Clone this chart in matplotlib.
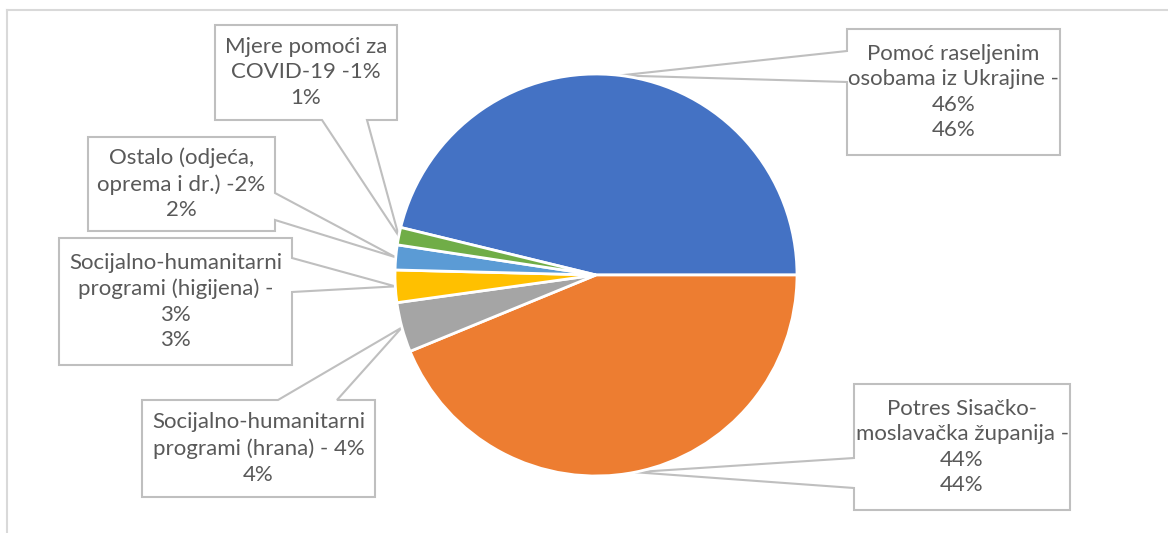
import matplotlib
matplotlib.use("Agg")
import matplotlib.pyplot as plt
import numpy as np
from matplotlib.patches import Polygon

# Data
categories = [
    "Pomoć raseljenim\nosobama iz Ukrajine -\n46%",
    "Potres Sisačko-\nmoslavačka županija -\n44%",
    "Socijalno-humanitarni\nprogrami (hrana) - 4%",
    "Socijalno-humanitarni\nprogrami (higijena) -\n3%",
    "Ostalo (odjeća,\noprema i dr.) -2%",
    "Mjere pomoći za\nCOVID-19 -1%",
]
values = [46.2, 43.8, 4.0, 2.6, 2.0, 1.4]
colors = ["#4472C4", "#ED7D31", "#A5A5A5", "#FFC000", "#5B9BD5", "#70AD47"]

# Layout of the callout boxes in pixels (x0, y0, x1, y1), y measured from top
boxes = [
    (847, 29, 1060, 155),
    (854, 384, 1070, 510),
    (142, 400, 375, 497),
    (59, 238, 292, 365),
    (88, 137, 275, 231),
    (215, 25, 397, 120),
]
# side of the box the leader comes out of, and the two base points on that side
sides = ["left", "left", "top", "right", "right", "bottom"]
bases = [(51, 82), (458, 488), (278, 337), (258, 292), (193, 220), (322, 367)]

W, H = 1168, 533
fig = plt.figure(figsize=(W / 100, H / 100), dpi=100)
ax = fig.add_axes([0, 0, 1, 1])

cx, cy, r = 596, H - 275, 201
total = sum(values)
start = 360 * values[0] / total
wedges, _ = ax.pie(values, colors=colors, startangle=start, counterclock=False,
                   center=(cx, cy), radius=r, frame=True,
                   wedgeprops=dict(edgecolor="white", linewidth=2))
ax.set_xlim(0, W)
ax.set_ylim(0, H)
ax.set_aspect("equal")
ax.axis("off")


def flip(p):
    return (p[0], H - p[1])


for w, cat, v, box, side, (b1, b2) in zip(wedges, categories, values, boxes, sides, bases):
    mid = np.deg2rad((w.theta1 + w.theta2) / 2)
    anchor = (cx + r * np.cos(mid), H - (cy + r * np.sin(mid)))
    x0, y0, x1, y1 = box
    if side == "top":
        pts = [(x0, y0), (b1, y0), anchor, (b2, y0), (x1, y0), (x1, y1), (x0, y1)]
    elif side == "right":
        pts = [(x0, y0), (x1, y0), (x1, b1), anchor, (x1, b2), (x1, y1), (x0, y1)]
    elif side == "bottom":
        pts = [(x0, y0), (x1, y0), (x1, y1), (b2, y1), anchor, (b1, y1), (x0, y1)]
    else:
        pts = [(x0, y0), (x1, y0), (x1, y1), (x0, y1), (x0, b2), anchor, (x0, b1)]
    poly = Polygon([flip(p) for p in pts], closed=True, facecolor="white",
                   edgecolor="#BFBFBF", linewidth=1.5, zorder=0.5)
    ax.add_patch(poly)
    pct = "{:.0f}%".format(v / total * 100)
    ax.text((x0 + x1) / 2, H - (y0 + y1) / 2, cat + "\n" + pct, ha="center", va="center",
            multialignment="center", color="#595959", fontsize=16, family="Lato",
            linespacing=1.35, zorder=3)

# chart area border
ax.plot([7, 7], [0, H - 10], color="#D9D9D9", linewidth=1.5, clip_on=False)
ax.plot([7, W], [H - 10, H - 10], color="#D9D9D9", linewidth=1.5, clip_on=False)

plt.savefig("out.png", dpi=100)
